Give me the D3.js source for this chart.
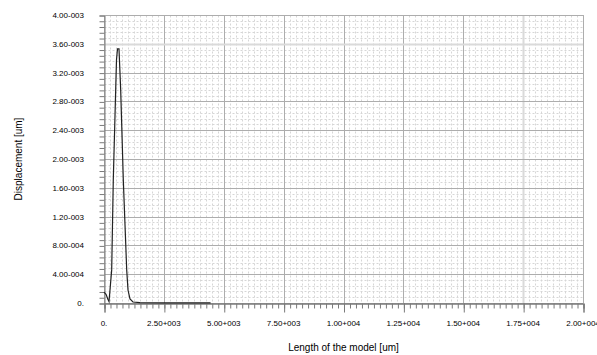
<!DOCTYPE html>
<html lang="en">
<head>
<meta charset="UTF-8">
<script src="https://d3js.org/d3.v7.min.js"></script>
<title>Displacement</title>
<style>
  body { margin: 0; background: #fff; }
  text { font-family: "Liberation Sans", Arial, sans-serif; fill: #000; }
</style>
</head>
<body>
<div id="container"></div>
<script>
// data
var lengthUm = [0, 84, 167, 209, 250, 321, 388, 488, 522, 564, 626, 697, 806, 948, 1002, 1085, 1211, 1500, 2500, 3500, 4450];
var dispUm = [1.5e-4, 1.2e-4, 5e-5, 2e-5, 1.8e-4, 4.6e-4, 1.71e-3, 2.96e-3, 3.38e-3, 3.53e-3, 3.53e-3, 2.96e-3, 1.71e-3, 4.6e-4, 1.8e-4, 5.6e-5, 1.4e-5, 5e-6, 3e-6, 2e-6, 2e-6];

var xMajor = [0, 2500, 5000, 7500, 10000, 12500, 15000, 17500, 20000];
var yMajor = [0, 4e-4, 8e-4, 1.2e-3, 1.6e-3, 2e-3, 2.4e-3, 2.8e-3, 3.2e-3, 3.6e-3, 4e-3];
var xTitle = "Length of the model [um]";
var yTitle = "Displacement [um]";

var width = 597, height = 355;
var margin = {top: 15, left: 104, right: 14, bottom: 52};

var x = d3.scaleLinear().domain([0, 20000]).range([margin.left, width - margin.right]);
var y = d3.scaleLinear().domain([0, 4e-3]).range([height - margin.bottom, margin.top]);

// 4.00-003 style labels
function fmt(v) {
    if (v === 0) return "0.";
    var e = Math.floor(Math.log10(Math.abs(v)) + 1e-9);
    var m = v / Math.pow(10, e);
    var s = e < 0 ? "-" : "+";
    return m.toFixed(2) + s + String(Math.abs(e)).padStart(3, "0");
}

var xMinor = d3.range(0, 20001, 250);
var yMinor = d3.range(0, 51).map(function(i){ return i * 8e-5; });

var svg = d3.select("#container").append("svg")
    .attr("width", width).attr("height", height);

var g = svg.append("g").attr("transform", "translate(0.5,0.5)");

// minor grid
g.append("g").selectAll("line").data(xMinor).enter().append("line")
    .attr("x1", function(d){ return Math.round(x(d)); })
    .attr("x2", function(d){ return Math.round(x(d)); })
    .attr("y1", y(4e-3)).attr("y2", y(0))
    .attr("stroke", "#d6d6d6").attr("stroke-dasharray", "2,2");
g.append("g").selectAll("line").data(yMinor).enter().append("line")
    .attr("y1", function(d){ return Math.round(y(d)); })
    .attr("y2", function(d){ return Math.round(y(d)); })
    .attr("x1", x(0)).attr("x2", x(20000))
    .attr("stroke", "#d6d6d6").attr("stroke-dasharray", "2,2");

// major grid
g.append("g").selectAll("line").data(xMajor).enter().append("line")
    .attr("x1", function(d){ return Math.round(x(d)); })
    .attr("x2", function(d){ return Math.round(x(d)); })
    .attr("y1", y(4e-3)).attr("y2", y(0))
    .attr("stroke", function(d){ return d === 17500 ? "#dadada" : "#adadad"; })
    .attr("stroke-width", function(d){ return d === 17500 ? 2 : 1; });
g.append("g").selectAll("line").data(yMajor).enter().append("line")
    .attr("y1", function(d){ return Math.round(y(d)); })
    .attr("y2", function(d){ return Math.round(y(d)); })
    .attr("x1", x(0)).attr("x2", x(20000))
    .attr("stroke", function(d){ return Math.abs(d - 3.6e-3) < 1e-9 ? "#dadada" : "#adadad"; })
    .attr("stroke-width", function(d){ return Math.abs(d - 3.6e-3) < 1e-9 ? 2 : 1; });

// axes
var xAxis = d3.axisBottom(x).tickValues(xMinor).tickSize(5).tickFormat("");
var yAxis = d3.axisLeft(y).tickValues(yMinor).tickSize(5).tickFormat("");
var xa = g.append("g").attr("transform", "translate(0," + Math.round(y(0)) + ")").call(xAxis);
var ya = g.append("g").attr("transform", "translate(" + Math.round(x(0)) + ",0)").call(yAxis);
g.append("g").attr("transform", "translate(0," + Math.round(y(0)) + ")")
    .call(d3.axisBottom(x).tickValues(xMajor).tickSize(9).tickFormat(""));
g.selectAll(".domain, .tick line").attr("stroke", "#7a7a7a");
// top and right frame
g.append("line").attr("x1", x(0)).attr("x2", x(20000)).attr("y1", y(4e-3)).attr("y2", y(4e-3)).attr("stroke", "#adadad");
g.append("line").attr("x1", Math.round(x(20000))).attr("x2", Math.round(x(20000))).attr("y1", y(4e-3)).attr("y2", y(0)).attr("stroke", "#adadad");

// tick labels
svg.append("g").selectAll("text").data(yMajor).enter().append("text")
    .attr("x", 84).attr("y", function(d){ return y(d) + 3; })
    .attr("text-anchor", "end").attr("font-size", 8)
    .text(fmt);
svg.append("g").selectAll("text").data(xMajor).enter().append("text")
    .attr("x", function(d){ return x(d); }).attr("y", 326)
    .attr("text-anchor", "middle").attr("font-size", 8)
    .text(fmt);

// titles
svg.append("text").attr("x", (x(0) + x(20000)) / 2).attr("y", 351)
    .attr("text-anchor", "middle").attr("font-size", 10).text(xTitle);
svg.append("text").attr("transform", "translate(22," + (y(2e-3)) + ") rotate(-90)")
    .attr("text-anchor", "middle").attr("font-size", 10).text(yTitle);

// curve
var line = d3.line().x(function(d, i){ return x(lengthUm[i]); }).y(function(d){ return y(d); });
svg.append("path").datum(dispUm)
    .attr("d", line)
    .attr("fill", "none").attr("stroke", "#222").attr("stroke-width", 1.2);
</script>
</body>
</html>
